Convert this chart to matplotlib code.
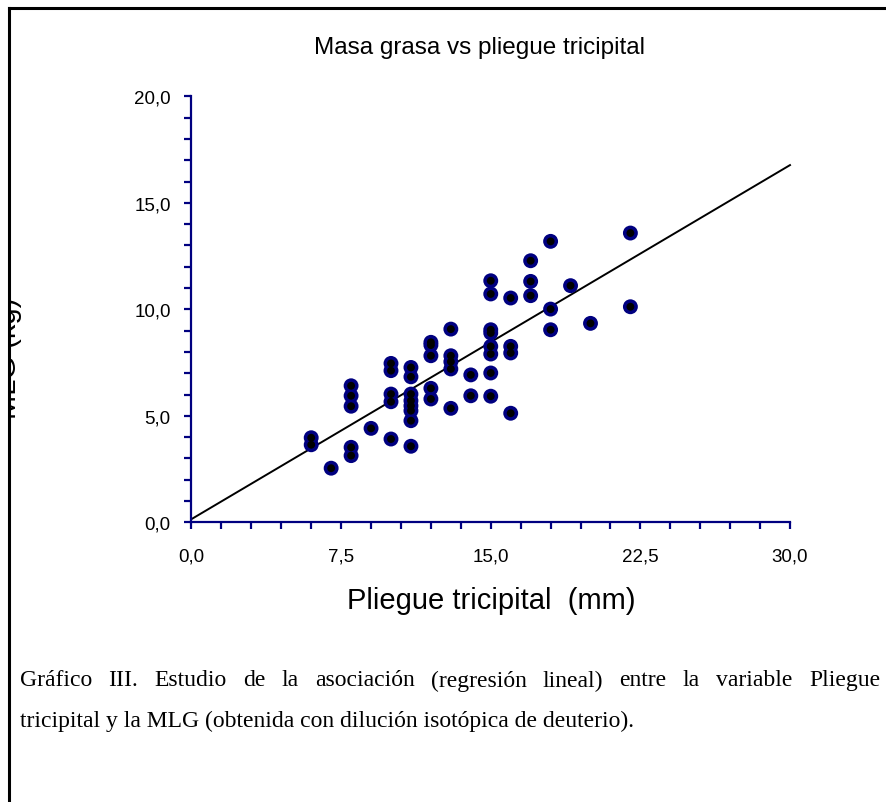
import matplotlib
matplotlib.use("Agg")
import matplotlib.pyplot as plt
import numpy as np
from matplotlib.patches import Rectangle
from matplotlib.lines import Line2D

# ---- data ----
pliegue = [6, 6, 7,
           8, 8, 8, 8, 8,
           9,
           10, 10, 10, 10, 10,
           11, 11, 11, 11, 11, 11, 11, 11,
           12, 12, 12, 12, 12,
           13, 13, 13, 13, 13,
           14, 14,
           15, 15, 15, 15, 15, 15, 15, 15,
           16, 16, 16, 16,
           17, 17, 17,
           18, 18, 18,
           19, 20, 22, 22]
mlg = [3.97, 3.64, 2.54,
       6.41, 5.94, 5.45, 3.52, 3.13,
       4.41,
       7.46, 7.12, 6.02, 5.66, 3.91,
       7.27, 6.83, 6.02, 5.71, 5.47, 5.24, 4.77, 3.57,
       8.45, 8.32, 7.82, 6.29, 5.79,
       9.07, 7.82, 7.54, 7.20, 5.35,
       6.92, 5.94,
       11.34, 10.72, 9.04, 8.89, 8.26, 7.90, 7.01, 5.92,
       10.53, 8.26, 7.95, 5.12,
       12.28, 11.31, 10.64,
       13.19, 10.01, 9.04,
       11.11, 9.34, 13.58, 10.12]
fit_intercept = 0.15
fit_slope = 0.554
fit_x = [0.0, 30.0]
xticks = [0.0, 7.5, 15.0, 22.5, 30.0]
xtick_labels = ["0,0", "7,5", "15,0", "22,5", "30,0"]
yticks = [0.0, 5.0, 10.0, 15.0, 20.0]
ytick_labels = ["0,0", "5,0", "10,0", "15,0", "20,0"]
caption_line1 = "Gráfico III. Estudio de la asociación (regresión lineal) entre la variable Pliegue"
caption_line2 = "tricipital y la MLG (obtenida con dilución isotópica de deuterio)."

W, H = 887, 803
fig = plt.figure(figsize=(W / 100, H / 100), dpi=100)
fig.patch.set_facecolor("white")

def fx(px):
    return px / W

def fy(py):
    return 1 - py / H

ax_l, ax_r, ax_t, ax_b = 191.5, 790, 97.3, 523.3
ax = fig.add_axes([fx(ax_l), fy(ax_b), fx(ax_r - ax_l), (ax_b - ax_t) / H])
ax.set_xlim(0, 30)
ax.set_ylim(0, 20)
navy = "#000080"
for s in ["top", "right"]:
    ax.spines[s].set_visible(False)
for s in ["left", "bottom"]:
    ax.spines[s].set_color(navy)
    ax.spines[s].set_linewidth(1.6)

ax.set_xticks(xticks)
ax.set_xticklabels(xtick_labels)
ax.set_yticks(yticks)
ax.set_yticklabels(ytick_labels)
ax.set_xticks(np.arange(0, 30.01, 1.5), minor=True)
ax.set_yticks(np.arange(0, 20.01, 1.0), minor=True)
ax.tick_params(which="both", direction="out", length=5, width=1.6, color=navy)
ax.tick_params(axis="x", which="major", pad=13, labelsize=13.5)
ax.tick_params(axis="y", which="major", pad=10, labelsize=13.5)
for lab in ax.get_xticklabels() + ax.get_yticklabels():
    lab.set_fontfamily("Liberation Sans")
for lab in ax.get_yticklabels():
    lab.set_verticalalignment("center_baseline")

xs = np.array(fit_x)
ax.plot(xs, fit_intercept + fit_slope * xs, color="black", lw=1.4, zorder=2, clip_on=False)
ax.scatter(pliegue, mlg, s=115, color=navy, edgecolors="none", zorder=3, clip_on=False)
ax.scatter(pliegue, mlg, s=32, color="black", edgecolors="none", zorder=4, clip_on=False)

fig.text(fx(480), fy(48), "Masa grasa vs pliegue tricipital", ha="center", va="center",
         fontsize=17.5, family="Liberation Sans")
fig.text(fx(491), fy(601), "Pliegue tricipital  (mm)", ha="center", va="center",
         fontsize=21, family="Liberation Sans")
fig.text(fx(22), fy(358), "MLG (kg)", ha="right", va="center", rotation=90,
         fontsize=21, family="Liberation Sans", zorder=3)

# caption: first line justified between x=20 and x=880
cap_fs = 17
renderer = fig.canvas.get_renderer()
words = caption_line1.split(" ")
widths = []
tmp = []
for w in words:
    t = fig.text(0, 0, w, fontsize=cap_fs, family="Liberation Serif")
    widths.append(t.get_window_extent(renderer).width)
    tmp.append(t)
for t in tmp:
    t.remove()
left, right = 20.0, 880.0
gap = (right - left - sum(widths)) / (len(words) - 1)
xpos = left
for w, wd in zip(words, widths):
    fig.text(fx(xpos), fy(681), w, ha="left", va="center", fontsize=cap_fs,
             family="Liberation Serif")
    xpos += wd + gap
fig.text(fx(20), fy(721), caption_line2, ha="left", va="center", fontsize=cap_fs,
         family="Liberation Serif")

# mask left of the border and draw the border lines
fig.patches.append(Rectangle((0, 0), fx(8), 1, transform=fig.transFigure,
                             facecolor="white", edgecolor="none", zorder=10))
fig.lines.append(Line2D([fx(9), fx(9)], [0, fy(9)], transform=fig.transFigure,
                        color="black", lw=2.2, zorder=11))
fig.lines.append(Line2D([fx(9), 1], [fy(9), fy(9)], transform=fig.transFigure,
                        color="black", lw=2.2, zorder=11))

fig.savefig("out.png", dpi=100, facecolor="white")
